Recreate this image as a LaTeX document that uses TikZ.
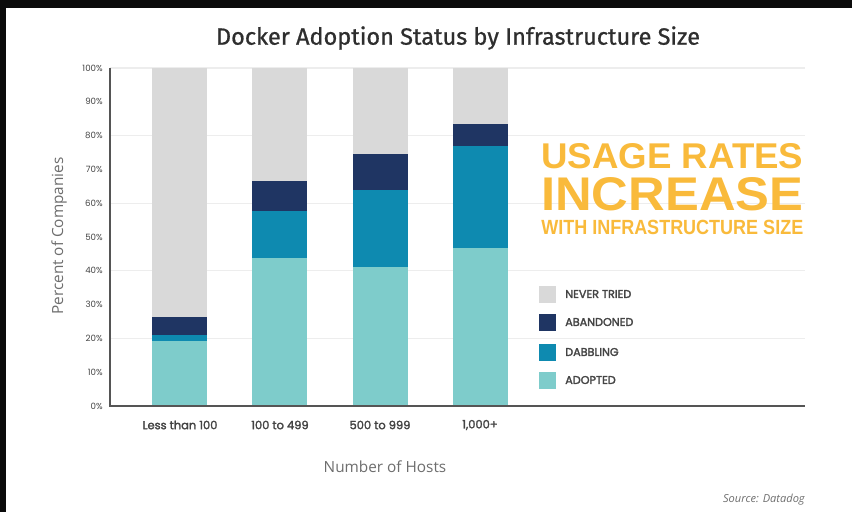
\documentclass[tikz,border=0pt]{standalone}
\usepackage{fontspec}
\setmainfont{Open Sans}
\newfontfamily\popf{Poppins}
\newfontfamily\popm{Poppins}[FakeBold=2.2]
\newfontfamily\firaf{Fira Sans}[FakeBold=0.8]
\newfontfamily\libf{Liberation Sans}
\definecolor{edgec}{HTML}{0B0B0B}
\definecolor{gridc}{HTML}{EDEDED}
\definecolor{axisc}{HTML}{555555}
\definecolor{nevc}{HTML}{D9D9D9}
\definecolor{abac}{HTML}{1F3563}
\definecolor{dabc}{HTML}{0E8AB0}
\definecolor{adoc}{HTML}{7ECCCB}
\definecolor{orangec}{HTML}{F9BA3B}
\definecolor{titlec}{HTML}{2E2E2E}
\definecolor{labc}{HTML}{444444}
\definecolor{softc}{HTML}{6E6E6E}
\tikzset{
  gridline/.style={draw=gridc, line width=0.8pt},
  axisline/.style={draw=axisc, line width=0.9pt},
  ticklabel/.style={anchor=east, inner sep=0pt, text=labc, font=\popf\fontsize{6.5}{7}\selectfont},
  catlabel/.style={inner sep=0pt, text=labc, font=\popm\fontsize{8.6}{10}\selectfont},
  leglabel/.style={anchor=west, inner sep=0pt, text=labc, font=\popm\fontsize{8.4}{10}\selectfont},
  axtitle/.style={inner sep=0pt, text=softc, font=\fontsize{11.5}{13}\selectfont},
  headline/.style={anchor=north west, inner sep=0pt, text=orangec},
}
\begin{document}
\begin{tikzpicture}[x=0.75pt,y=-0.75pt]
\useasboundingbox (0,0) rectangle (852,512);
\fill[white] (0,0) rectangle (852,512);
\fill[edgec] (0,0) rectangle (852,8);
\fill[edgec] (0,0) rectangle (6,512);
% title
\node[text=titlec, inner sep=0pt] (title) at (458,38) {\resizebox{363pt}{!}{\firaf\fontsize{15}{18}\selectfont Docker Adoption Status by Infrastructure Size}};
% grid
\foreach \p in {20,40,60,80,100}
  \draw[gridline] (110,{406-3.38*\p}) -- (805,{406-3.38*\p});
% bars
\foreach \x/\a/\d/\b [count=\i] in {152/19.3/21/26.4, 252/43.8/57.7/66.6, 353/41.1/63.9/74.6, 453/46.7/76.9/83.4}{
  \fill[nevc] (\x,68) rectangle ({\x+55},{406-3.38*\b});
  \fill[abac] (\x,{406-3.38*\b}) rectangle ({\x+55},{406-3.38*\d});
  \fill[dabc] (\x,{406-3.38*\d}) rectangle ({\x+55},{406-3.38*\a});
  \fill[adoc] (\x,{406-3.38*\a}) rectangle ({\x+55},406);
  \coordinate (bar\i) at ({\x+27.5},406);
}
% axes
\draw[axisline] (110,68) -- (110,406) -- (805,406);
% tick labels
\foreach \p in {0,10,...,100}
  \node[ticklabel] (t\p) at (103,{406-3.38*\p}) {\p\%};
% category labels
\node[catlabel] (c1) at (180,425) {Less than 100};
\node[catlabel] (c2) at (280,425) {100 to 499};
\node[catlabel] (c3) at (380,425) {500 to 999};
\node[catlabel] (c4) at (480,425) {1,000+};
% axis titles
\node[axtitle, rotate=90] (ytitle) at (59,236) {Percent of Companies};
\node[axtitle] (xtitle) at (385,467) {Number of Hosts};
% headline (three lines in one block)
\node[headline] (head) at (541,143) {\vbox{\offinterlineskip
  \hbox{\resizebox{196.5pt}{18.75pt}{\libf\bfseries USAGE RATES}}
  \kern 6.75pt
  \hbox{\resizebox{196.5pt}{24.75pt}{\libf\bfseries INCREASE}}
  \kern 6.75pt
  \hbox{\resizebox{196.5pt}{10.75pt}{\libf\bfseries WITH INFRASTRUCTURE SIZE}}}};
% legend
\foreach \c/\t/\yy [count=\i] in {nevc/NEVER TRIED/294, abac/ABANDONED/322, dabc/DABBLING/352, adoc/ADOPTED/380}{
  \fill[\c] (539,{\yy-8.5}) rectangle (556,{\yy+8.5});
  \node[leglabel] (leg\i) at (565,\yy) {\t};
}
% source
\node[anchor=east, inner sep=0pt, text=softc, font=\itshape\fontsize{8.3}{10}\selectfont] (src) at (805,500) {Source: Datadog};
\end{tikzpicture}
\end{document}
